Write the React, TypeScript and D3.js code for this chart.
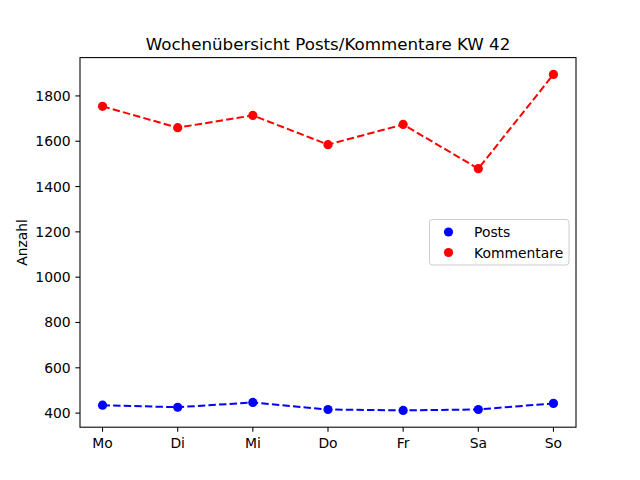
import React from 'react';
import * as d3 from 'd3';

const days = ['Mo', 'Di', 'Mi', 'Do', 'Fr', 'Sa', 'So'];
const posts = [435, 426, 447, 416, 412, 416, 443];
const kommentare = [1754, 1660, 1714, 1585, 1674, 1479, 1895];
const yTicks = [400, 600, 800, 1000, 1200, 1400, 1600, 1800];

const W = 640;
const H = 480;
const left = 80;
const right = 576;
const top = 57.6;
const bottom = 427.2;

export default function App() {
  const x = d3.scaleLinear().domain([-0.3, days.length - 1 + 0.3]).range([left, right]);
  const all = [...posts, ...kommentare];
  const lo = d3.min(all)!;
  const hi = d3.max(all)!;
  const pad = (hi - lo) * 0.05;
  const y = d3.scaleLinear().domain([lo - pad, hi + pad]).range([bottom, top]);

  const line = d3
    .line<number>()
    .x((_, i) => x(i))
    .y((d) => y(d));

  const series = [
    { name: 'Posts', values: posts, color: '#0000ff' },
    { name: 'Kommentare', values: kommentare, color: '#ff0000' },
  ];

  const font = '"DejaVu Sans", sans-serif';
  const fs = 13.9;

  return (
    <svg width={W} height={H} style={{ display: 'block', position: 'absolute', left: 0, top: 0, background: '#fff' }} fontFamily={font}>
      <rect x={0} y={0} width={W} height={H} fill="#fff" />
      {series.map((s) => (
        <g key={s.name}>
          <path d={line(s.values)!} fill="none" stroke={s.color} strokeWidth={2} strokeDasharray="7.4,3.2" />
          {s.values.map((v, i) => (
            <circle key={i} cx={x(i)} cy={y(v)} r={4.6} fill={s.color} />
          ))}
        </g>
      ))}
      <rect x={left} y={top} width={right - left} height={bottom - top} fill="none" stroke="#000" strokeWidth={1.07} />
      {days.map((d, i) => (
        <g key={d}>
          <line x1={x(i)} x2={x(i)} y1={bottom} y2={bottom + 4.67} stroke="#000" strokeWidth={1.07} />
          <text x={x(i)} y={448} textAnchor="middle" fontSize={fs} fill="#000">
            {d}
          </text>
        </g>
      ))}
      {yTicks.map((t) => (
        <g key={t}>
          <line x1={left - 4.67} x2={left} y1={y(t)} y2={y(t)} stroke="#000" strokeWidth={1.07} />
          <text x={left - 9.3} y={y(t)} dy="0.36em" textAnchor="end" fontSize={fs} fill="#000">
            {t}
          </text>
        </g>
      ))}
      <text transform={`translate(27,${(top + bottom) / 2}) rotate(-90)`} textAnchor="middle" fontSize={fs} fill="#000">
        Anzahl
      </text>
      <text x={(left + right) / 2} y={49.5} textAnchor="middle" fontSize={16.7} fill="#000">
        Wochenübersicht Posts/Kommentare KW 42
      </text>
      <g>
        <rect x={429.5} y={219.5} width={139.5} height={45.5} rx={3} fill="#fff" fillOpacity={0.8} stroke="#cccccc" strokeWidth={1} />
        {series.map((s, i) => (
          <g key={s.name}>
            <circle cx={448.5} cy={232 + i * 20.5} r={4.6} fill={s.color} />
            <text x={474} y={232 + i * 20.5} dy="0.36em" fontSize={fs} fill="#000">
              {s.name}
            </text>
          </g>
        ))}
      </g>
    </svg>
  );
}
